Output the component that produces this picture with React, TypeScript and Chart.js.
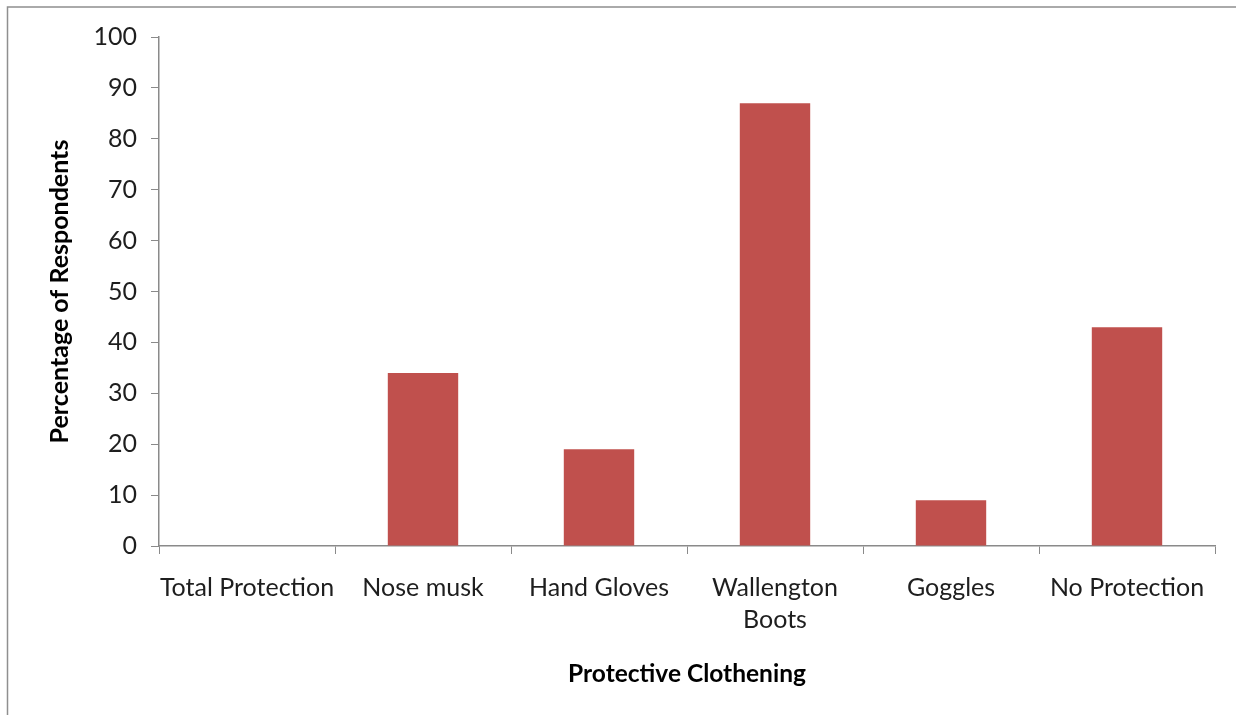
import React, { useEffect, useRef } from "react";
import { Chart, registerables } from "chart.js";

Chart.register(...registerables);

// Share of respondents using each kind of protective clothing
const categories: (string | string[])[] = [
  "Total Protection",
  "Nose musk",
  "Hand Gloves",
  ["Wallengton", "Boots"],
  "Goggles",
  "No Protection",
];
const percentages: number[] = [0, 34, 19, 87, 9, 43];

const yAxisTitle = "Percentage of Respondents";
const xAxisTitle = "Protective Clothening";

const FONT = "Lato, 'Open Sans', sans-serif";
const AXIS_GREY = "#8a8a8a";
const BAR_RED = "#C0504D";

// Thin grey frame around the figure
const framePlugin = {
  id: "frame",
  beforeDraw(chart: Chart) {
    const { ctx, width, height } = chart;
    ctx.save();
    ctx.strokeStyle = "#8f8f8f";
    ctx.lineWidth = 1.5;
    ctx.beginPath();
    ctx.moveTo(7.5, height + 5);
    ctx.lineTo(7.5, 7);
    ctx.lineTo(width + 5, 7);
    ctx.stroke();
    ctx.restore();
  },
};

export default function App() {
  const canvasRef = useRef<HTMLCanvasElement | null>(null);

  useEffect(() => {
    if (!canvasRef.current) return;
    const chart = new Chart(canvasRef.current, {
      type: "bar",
      data: {
        labels: categories,
        datasets: [
          {
            data: percentages,
            backgroundColor: BAR_RED,
            borderWidth: 0,
            barPercentage: 0.4,
            categoryPercentage: 1,
          },
        ],
      },
      plugins: [framePlugin],
      options: {
        responsive: false,
        animation: false,
        layout: { padding: { left: 45, top: 37, right: 21, bottom: 26 } },
        plugins: {
          legend: { display: false },
          tooltip: { enabled: false },
        },
        scales: {
          x: {
            grid: {
              offset: true,
              drawOnChartArea: false,
              drawTicks: true,
              tickLength: 8,
              color: AXIS_GREY,
            },
            border: { color: AXIS_GREY, width: 1.5 },
            ticks: {
              color: "#1e1e1e",
              font: { family: FONT, size: 25, lineHeight: 1.28 },
              padding: 18,
              maxRotation: 0,
              autoSkip: false,
            },
            title: {
              display: true,
              text: xAxisTitle,
              color: "#000",
              font: { family: FONT, size: 24.5, weight: "bold" },
              padding: { top: 0, bottom: 0 },
            },
            afterFit(scale: any) {
              scale.height = 143;
            },
          },
          y: {
            min: 0,
            max: 100,
            ticks: {
              stepSize: 10,
              color: "#1e1e1e",
              font: { family: FONT, size: 25 },
              padding: 14,
            },
            grid: {
              drawOnChartArea: false,
              drawTicks: true,
              tickLength: 8,
              color: AXIS_GREY,
            },
            border: { color: AXIS_GREY, width: 1.5 },
            title: {
              display: true,
              text: yAxisTitle,
              color: "#000",
              font: { family: FONT, size: 25, weight: "bold" },
              padding: { top: 0, bottom: 0 },
            },
            afterFit(scale: any) {
              scale.width = 114;
            },
          },
        },
      },
    });
    return () => chart.destroy();
  }, []);

  return (
    <div style={{ position: "fixed", left: 0, top: 0, width: 1236, height: 715, background: "#fff" }}>
      <canvas ref={canvasRef} width={1236} height={715} />
    </div>
  );
}
